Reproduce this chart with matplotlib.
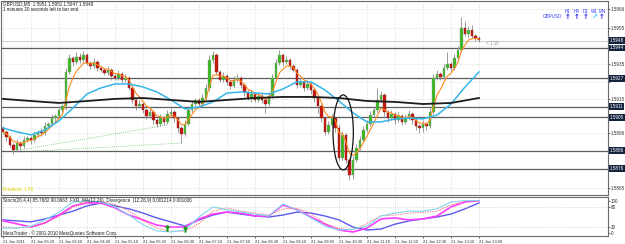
import numpy as np
import pandas as pd
import matplotlib
matplotlib.use("Agg")
import matplotlib.pyplot as plt
from matplotlib.patches import Ellipse
from matplotlib.transforms import blended_transform_factory

# GBPUSD M5, 21 Jan 2011 02:30 .. 13:50 (one close per bar)
first_open = 1.58989
closes = [
    1.58967, 1.58938, 1.58893, 1.58865, 1.58904, 1.58887, 1.58921, 1.58933, 1.58921, 1.58950,
    1.58967, 1.58961, 1.59000, 1.59012, 1.59045, 1.59057, 1.59091, 1.59113, 1.59305, 1.59384,
    1.59361, 1.59390, 1.59373, 1.59401, 1.59356, 1.59339, 1.59361, 1.59328, 1.59316, 1.59299,
    1.59316, 1.59282, 1.59271, 1.59294, 1.59260, 1.59271, 1.59215, 1.59147, 1.59113, 1.59124,
    1.59091, 1.59057, 1.59079, 1.59034, 1.59012, 1.59045, 1.59023, 1.59068, 1.59079, 1.59045,
    1.58989, 1.58955, 1.59012, 1.59091, 1.59124, 1.59147, 1.59124, 1.59158, 1.59215, 1.59373,
    1.59401, 1.59305, 1.59260, 1.59282, 1.59249, 1.59226, 1.59260, 1.59271, 1.59232, 1.59192,
    1.59158, 1.59181, 1.59147, 1.59170, 1.59147, 1.59124, 1.59170, 1.59271, 1.59356, 1.59401,
    1.59361, 1.59373, 1.59339, 1.59316, 1.59232, 1.59249, 1.59215, 1.59237, 1.59203, 1.59158,
    1.59113, 1.59045, 1.58967, 1.59006, 1.59045, 1.58989, 1.58820, 1.58950, 1.58809, 1.58724,
    1.58809, 1.58876, 1.58921, 1.58978, 1.59012, 1.59062, 1.59091, 1.59147, 1.59175, 1.59079,
    1.59045, 1.59068, 1.59034, 1.59057, 1.59023, 1.59045, 1.59068, 1.59034, 1.59000, 1.58989,
    1.59012, 1.59000, 1.59079, 1.59271, 1.59294, 1.59277, 1.59328, 1.59350, 1.59328, 1.59384,
    1.59429, 1.59553, 1.59519, 1.59542, 1.59508, 1.59497, 1.59485,
]
# wick lengths in pips above / below the body
upper_wick = [
    1, 1, 1, 1, 2, 1, 2, 1, 1, 2, 1, 2, 2, 1, 2, 1, 2, 1, 2, 2,
    1, 3, 2, 2, 1, 1, 2, 1, 1, 1, 2, 1, 1, 2, 1, 2, 1, 1, 1, 2,
    1, 1, 2, 1, 1, 2, 1, 2, 2, 1, 1, 1, 2, 2, 2, 1, 1, 2, 2, 3,
    2, 1, 1, 2, 1, 1, 2, 2, 1, 1, 1, 2, 1, 2, 1, 1, 2, 2, 2, 3,
    1, 2, 1, 1, 1, 2, 1, 2, 1, 1, 1, 1, 1, 2, 2, 1, 2, 2, 1, 1,
    2, 2, 2, 2, 2, 2, 2, 7, 2, 1, 1, 2, 1, 2, 1, 2, 2, 1, 1, 1,
    2, 1, 2, 2, 2, 1, 2, 7, 1, 2, 2, 6, 4, 2, 3, 1, 1,
]
lower_wick = [
    1, 2, 1, 2, 1, 2, 1, 1, 2, 1, 1, 2, 1, 1, 1, 2, 1, 1, 2, 1,
    2, 1, 2, 1, 1, 2, 1, 2, 1, 1, 1, 2, 1, 1, 2, 1, 1, 2, 2, 1,
    2, 2, 1, 2, 2, 1, 2, 1, 1, 2, 2, 5, 1, 1, 1, 2, 1, 1, 1, 2,
    2, 2, 1, 1, 2, 2, 1, 1, 2, 2, 1, 2, 1, 1, 2, 5, 1, 1, 1, 1,
    2, 1, 2, 1, 2, 1, 2, 1, 2, 2, 4, 2, 2, 1, 1, 2, 2, 1, 2, 3,
    2, 1, 1, 1, 1, 1, 1, 1, 1, 2, 2, 1, 2, 1, 2, 1, 1, 2, 2, 3,
    2, 2, 1, 1, 1, 2, 1, 1, 2, 1, 1, 1, 1, 2, 1, 2, 1,
]

time_labels = ["21 Jan 2011", "21 Jan 03:10", "21 Jan 03:50", "21 Jan 04:30", "21 Jan 05:10",
               "21 Jan 05:50", "21 Jan 06:30", "21 Jan 07:10", "21 Jan 07:50", "21 Jan 08:30",
               "21 Jan 09:10", "21 Jan 09:50", "21 Jan 10:30", "21 Jan 11:10", "21 Jan 11:50",
               "21 Jan 12:30", "21 Jan 13:10", "21 Jan 13:50"]
label_bars = list(range(0, 137, 8))

# slow moving average, read at every label bar
black_ma = [1.59153, 1.59141, 1.59130, 1.59141, 1.59153, 1.59158, 1.59147, 1.59136, 1.59147,
            1.59158, 1.59164, 1.59164, 1.59158, 1.59141, 1.59136, 1.59124, 1.59130, 1.59158]

# sampled every 4 bars
sub_bars = list(range(0, 137, 4))
blue_ma = [1.58989, 1.58967, 1.58950, 1.58978, 1.59029, 1.59102, 1.59181, 1.59215, 1.59237,
           1.59237, 1.59220, 1.59192, 1.59147, 1.59096, 1.59107, 1.59136, 1.59186, 1.59192,
           1.59186, 1.59181, 1.59209, 1.59249, 1.59249, 1.59203, 1.59141, 1.59074, 1.59023,
           1.59023, 1.59040, 1.59045, 1.59040, 1.59062, 1.59124, 1.59220, 1.59305]

grid_levels = [1.5966, 1.5955, 1.5945, 1.5935, 1.5925, 1.5915, 1.5905, 1.5896, 1.5886, 1.5876, 1.5865]
grid_labels = ["1.5966", "1.5955", "", "1.5935", "", "1.5915", "", "1.5896", "", "", "1.5865"]
level_prices = [1.5944, 1.5927, 1.5911, 1.5905, 1.5886, 1.5876]
bid = 1.5948

# trend lines (bar, price)
trend_a = ([5, 47], [1.58865, 1.59006])
trend_b = ([5, 51], [1.58854, 1.58904])

# sub window
stoch_main = [16, 16, 22, 41, 65, 96, 100, 96, 81, 56, 26, 7, 4, 10, 50, 81, 72, 65, 59, 53,
              90, 72, 47, 22, 10, 13, 22, 53, 62, 68, 68, 75, 96, 100, 100]
stoch_sig = [20, 17, 19, 32, 52, 80, 97, 98, 88, 68, 40, 15, 6, 7, 30, 68, 78, 68, 62, 56,
             75, 77, 60, 30, 15, 10, 30, 54, 56, 62, 64, 68, 87, 99, 99]
div_fast = [38, 29, 19, 32, 56, 84, 93, 93, 78, 56, 41, 25, 19, 19, 44, 59, 65, 62, 53, 53,
            87, 72, 50, 28, 10, 4, 16, 44, 47, 41, 44, 53, 81, 96, 100]
div_slow = [41, 38, 35, 44, 56, 68, 84, 93, 84, 75, 62, 47, 35, 22, 41, 56, 65, 59, 53, 50,
            56, 65, 62, 53, 41, 19, 10, 13, 28, 38, 44, 50, 59, 75, 93]
arrow_bars = [47, 52]
arrow_vals = [17, 14]

plt.rcParams["font.family"] = ["Liberation Sans", "DejaVu Sans"]
FS = 3.3

W, H = 625, 244
fig = plt.figure(figsize=(W / 100, H / 100), dpi=100)
ax = fig.add_axes([1 / W, 1 - 195 / H, 607 / W, 194 / H])
ax2 = fig.add_axes([1 / W, 1 - 236 / H, 607 / W, 39 / H], sharex=ax)

c = np.array(closes)
o = np.r_[first_open, c[:-1]]
x = np.arange(len(c))
hi = np.maximum(o, c) + np.array(upper_wick) * 0.0001
lo = np.minimum(o, c) - np.array(lower_wick) * 0.0001
bottom = np.minimum(o, c)
height = np.maximum(np.abs(c - o), 0.00003)
bull = c >= o

ax.vlines(x, lo, hi, color="#8c8c8c", lw=0.6, zorder=3)
ax.bar(x[bull], height[bull], bottom=bottom[bull], width=0.75, color="#36b81e",
       edgecolor="#9a9a9a", lw=0.3, zorder=4)
ax.bar(x[~bull], height[~bull], bottom=bottom[~bull], width=0.75, color="#cc160a",
       edgecolor="#7a2a2a", lw=0.3, zorder=4)

ax.plot(x, pd.Series(c).ewm(span=5, adjust=False).mean(), color="#ff8a1c", lw=0.8, zorder=5)
ax.plot(sub_bars, blue_ma, color="#35b6ea", lw=1.1, zorder=5)
ax.plot(label_bars, black_ma, color="#1c1c1c", lw=1.3, zorder=5)

ax.plot(*trend_a, color="#6cc46c", lw=0.6, ls=(0, (1, 1.5)), zorder=2)
ax.plot(*trend_b, color="#6cc46c", lw=0.6, ls=(0, (1, 1.5)), zorder=2)

ax.add_patch(Ellipse((97.2, 1.58964), 5.8, 0.00423, fill=False, ec="#111111", lw=0.9, zorder=6))

for p in level_prices:
    ax.axhline(p, color="#5e5e5e", lw=0.9, zorder=2)
ax.axhline(bid, color="#c4c4c4", lw=0.6, zorder=2)

ax.set_xlim(-0.57, 172.86)
ax.set_ylim(1.58611, 1.59705)
ax.set_xticks(label_bars)
ax.tick_params(axis="x", labelbottom=False, length=0)
ax.yaxis.tick_right()
ax.set_yticks(grid_levels, grid_labels)
ax.tick_params(axis="y", labelsize=FS, length=1.2, width=0.5, pad=1.0, colors="#303030")
ax.grid(True, color="#c9c9c9", lw=0.5, ls=(0, (1, 2)))

trans = blended_transform_factory(ax.transAxes, ax.transData)
for p in level_prices + [bid]:
    ax.text(1.003, p, f"{p:.4f}", transform=trans, ha="left", va="center", fontsize=FS,
            color="white", clip_on=False, zorder=10,
            bbox=dict(boxstyle="square,pad=0.2", fc="#132340", ec="none"))

ax.text(138, 1.59468, "< 1.10", fontsize=FS, color="#8c8c8c", va="center")
ax.text(0.004, 0.985, "GBPUSD,M5  1.5951 1.5951 1.5947 1.5948", transform=ax.transAxes,
        fontsize=FS, va="center", color="#202020")
ax.text(0.004, 0.956, "1 minutes 20 seconds left to bar end", transform=ax.transAxes,
        fontsize=FS, va="center", color="#202020")
ax.text(0.004, 0.026, "Breakout: 1.45", transform=ax.transAxes, fontsize=FS,
        va="center", color="#e2d400")

ax.text(0.924, 0.918, "GBPUSD", transform=ax.transAxes, fontsize=FS, ha="right",
        va="center", color="#3a3aff")
tf_x = [0.934, 0.948, 0.963, 0.977, 0.990]
tf_names = ["H1", "H4", "D1", "W1", "MN"]
tf_arrows = ["↑", "↑", "↑", "↗", "↑"]
tf_cols = ["#2020ee", "#2020ee", "#2020ee", "#4fc8ff", "#2020ee"]
for tx, nm, ar, col in zip(tf_x, tf_names, tf_arrows, tf_cols):
    ax.text(tx, 0.948, nm, transform=ax.transAxes, fontsize=FS, ha="center",
            va="center", color="#3a3aff")
    ax.text(tx, 0.915, ar, transform=ax.transAxes, fontsize=5, ha="center",
            va="center", color=col, fontweight="bold", family="DejaVu Sans")

# sub window
ax2.plot(sub_bars, div_slow, color="#5a5af0", lw=1.0)
ax2.plot(sub_bars, div_fast, color="#ff3cff", lw=1.2)
ax2.plot(sub_bars, stoch_sig, color="#ff5050", lw=0.6, ls=(0, (1.5, 1.5)))
ax2.plot(sub_bars, stoch_main, color="#7fd8f0", lw=0.8)
ax2.scatter(arrow_bars, arrow_vals, marker="$↑$", s=14, color="#139a13", zorder=6)
for lv in (20, 80):
    ax2.axhline(lv, color="#b8b8b8", lw=0.5, ls=(0, (1, 2)))
ax2.set_ylim(-8.3, 111.3)
ax2.yaxis.tick_right()
ax2.set_yticks([0, 20, 80, 100], ["0", "20", "80", "100"])
ax2.tick_params(axis="y", labelsize=FS, length=1.2, width=0.5, pad=1.0, colors="#303030")
ax2.set_xticks(label_bars, time_labels, fontsize=2.9, ha="left")
ax2.tick_params(axis="x", length=1.5, width=0.5, pad=1.2, colors="#303030")
ax2.grid(True, axis="x", color="#c9c9c9", lw=0.5, ls=(0, (1, 2)))
ax2.text(0.004, 0.92, "Stoch(26,4,4) 85.7682 90.0663  FXR_MA(12,26)_Divergence  (12,26,9) 0.001214 0.001006",
         transform=ax2.transAxes, fontsize=FS, va="center", color="#202020")
ax2.text(0.004, 0.08, "MetaTrader - © 2001-2010 MetaQuotes Software Corp.",
         transform=ax2.transAxes, fontsize=FS, va="center", color="#202020")

for a in (ax, ax2):
    for sp in a.spines.values():
        sp.set_color("#6a6a6a")
        sp.set_linewidth(0.8)

fig.savefig("out.png", dpi=100)
